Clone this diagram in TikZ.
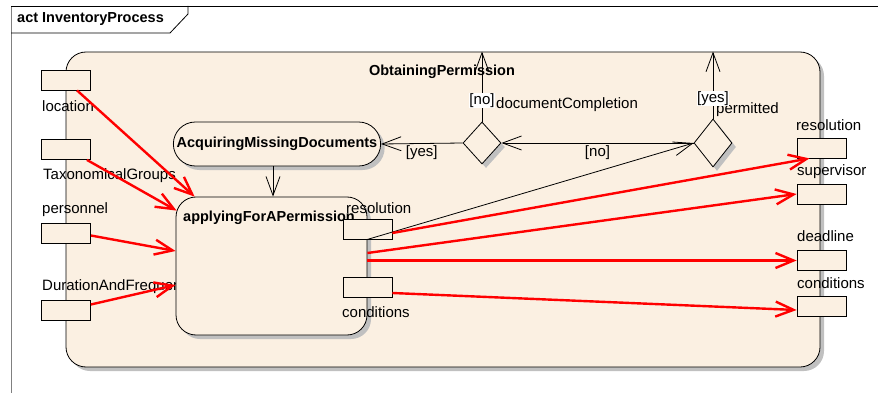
\documentclass[tikz,border=0pt]{standalone}
\usepackage{fontspec}
\setmainfont{Liberation Sans}
\usetikzlibrary{arrows.meta,shapes.geometric,shadows,calc}

\definecolor{actfill}{RGB}{251,240,226}
\definecolor{shadowgray}{RGB}{192,192,192}

\begin{document}
\begin{tikzpicture}[x=1pt,y=-1pt]
            \tikzset{
                every node/.style={font=\fontsize{15}{17}\selectfont},
                title/.style={font=\bfseries\fontsize{14.5}{17}\selectfont, inner sep=0},
                lbl/.style={anchor=west, inner sep=0},
                guard/.style={fill=white, inner sep=0.5pt},
                castshadow/.style={drop shadow={shadow xshift=4pt, shadow yshift=-4pt, fill=shadowgray, opacity=1}},
                region/.style={draw, line width=0.8pt, fill=actfill, rounded corners=20pt, castshadow},
                action/.style={draw, line width=0.8pt, fill=actfill, rounded corners=20pt, castshadow},
                decision/.style={diamond, draw, line width=0.8pt, fill=actfill, inner sep=0, castshadow},
                port/.style={draw, line width=0.8pt, fill=actfill, minimum width=49pt, minimum height=20pt, inner sep=0},
                flow/.style={line width=0.8pt, -{Straight Barb[length=19pt,width=14pt]}},
                data/.style={red, line width=2.4pt, -{Straight Barb[length=18pt,width=15pt]}}
            }
            \useasboundingbox (0,0) rectangle (878,393);
            % frame
            \draw[gray, line width=0.8pt] (11,393) -- (11,6);
            \draw[line width=0.8pt] (11,6) -- (878,6);
            \draw[line width=0.8pt] (11,33) -- (170,33) -- (188,14) -- (188,6);
            \node[title, anchor=west] (frm) at (17,19) {act InventoryProcess};
            % activity region
            \node[region, minimum width=754pt, minimum height=315pt] (op) at (443,209.5) {};
            \node[title] (optitle) at (442,72) {ObtainingPermission};
            \node[lbl] (ldur) at (42,287) {DurationAndFrequency};
            \node[action, minimum width=191pt, minimum height=138pt] (app) at (271.5,266) {};
            \node[title, anchor=west] (apptitle) at (183,218) {applyingForAPermission};
            \node[action, rounded corners=22pt, minimum width=207pt, minimum height=44pt,
                  font=\bfseries\fontsize{14.5}{17}\selectfont] (acq) at (277,144) {AcquiringMissingDocuments};
            \node[decision, minimum width=38pt, minimum height=42pt] (dcomp) at (482,143) {};
            \node[decision, minimum width=38pt, minimum height=48pt] (dperm) at (713,143) {};
            % pins
            \node[port] (ploc) at (66,80) {};
            \node[port] (ptax) at (66,149.5) {};
            \node[port] (pper) at (66,233.5) {};
            \node[port] (pdur) at (66,310.5) {};
            \node[port] (ares) at (367.5,229) {};
            \node[port] (acon) at (367.5,287) {};
            \node[port] (rres) at (821.5,148) {};
            \node[port] (rsup) at (821.5,194) {};
            \node[port] (rdl) at (821.5,260.5) {};
            \node[port] (rcon) at (821.5,306) {};
            % pin labels
            \node[lbl] (lloc) at (42,106) {location};
            \node[lbl] (ltax) at (43,176) {TaxonomicalGroups};
            \node[lbl] (lper) at (42,210) {personnel};
            \node[lbl] (lares) at (346,208) {resolution};
            \node[lbl] (lacon) at (342,312) {conditions};
            \node[lbl] (lrres) at (796,125) {resolution};
            \node[lbl] (lrsup) at (797,172) {supervisor};
            \node[lbl] (lrdl) at (797,236) {deadline};
            \node[lbl] (lrcon) at (797,283) {conditions};
            \node[lbl] (lcomp) at (496,105) {documentCompletion};
            \node[lbl] (lperm) at (716,110) {permitted};
            % control flows
            \coordinate (acqout) at ($(acq.south)+(-4,0)$);
            \draw[flow] (acqout) -- (acqout |- app.north);
            \draw[flow] (dcomp.west) -- node[below=2pt, inner sep=0] {[yes]} (acq.east);
            \draw[flow] (dperm.west) -- node[below=2pt, inner sep=0] {[no]} (dcomp.east);
            \draw[flow] (ares.south) -- (dperm.west);
            \draw[flow] (dcomp.north) -- node[guard, pos=0.3] {[no]} (dcomp |- op.north);
            \draw[flow] (dperm.north) -- node[guard, pos=0.3] {[yes]} (dperm |- op.north);
            % object flows
            \draw[data] ($(ploc.south)+(11,0)$) -- ($(app.north west)+(19,0)$);
            \draw[data] ($(ptax.south east)+(-4,0)$) -- ($(app.north west)+(1,14)$);
            \draw[data] ($(pper.east)+(0,2)$) -- ($(app.west)+(0,-15)$);
            \draw[data] ($(pdur.east)+(0,-6)$) -- ($(app.west)+(0,19)$);
            \draw[data] ($(ares.east)+(0,4)$) -- ($(rres.south)+(-12,0)$);
            \draw[data] ($(app.east)+(0,-13)$) -- (rsup.west);
            \draw[data] (app.east |- rdl.west) -- (rdl.west);
            \draw[data] ($(acon.east)+(0,6)$) -- ($(rcon.west)+(0,4)$);
        \end{tikzpicture}
\end{document}
